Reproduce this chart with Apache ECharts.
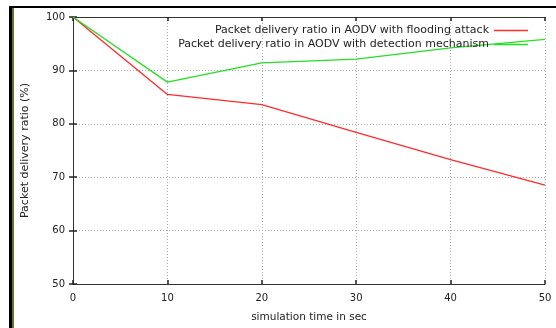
<!DOCTYPE html>
<html><head><meta charset="utf-8">
<script src="https://cdn.jsdelivr.net/npm/echarts@6/dist/echarts.min.js"></script>
<style>html,body{margin:0;padding:0;background:#fff}#c{width:556px;height:328px}</style>
</head><body><div id="c"></div>
<script>
const times = [0, 10, 20, 30, 40, 50];
const floodingAttack = [100, 85.5, 83.6, 78.4, 73.3, 68.5];
const detectionMechanism = [100, 87.8, 91.4, 92.1, 94.2, 95.8];
const seriesNames = ['Packet delivery ratio in AODV with flooding attack', 'Packet delivery ratio in AODV with detection mechanism'];
const xTitle = 'simulation time in sec';
const yTitle = 'Packet delivery ratio (%)';

const font = 'DejaVu Sans';
const chart = echarts.init(document.getElementById('c'), null, {renderer: 'canvas'});
const axisCommon = {
  axisLine: {show: true, lineStyle: {color: '#333', width: 1}},
  axisTick: {show: true, inside: true, length: 4, lineStyle: {color: '#222', width: 1.5}},
  splitLine: {show: false},
};
chart.setOption({
  animation: false,
  textStyle: {fontFamily: font},
  grid: {left: 73, right: 11, top: 17, bottom: 43, containLabel: false},
  legend: [
    {data: [seriesNames[0]], right: 23, top: 20, align: 'right', icon: 'rect', itemWidth: 34, itemHeight: 1.5, itemGap: 4,
     textStyle: {fontSize: 11, color: '#222', fontFamily: font}},
    {data: [seriesNames[1]], right: 23, top: 34, align: 'right', icon: 'rect', itemWidth: 34, itemHeight: 1.5, itemGap: 4,
     textStyle: {fontSize: 11, color: '#222', fontFamily: font}}
  ],
  xAxis: [
    Object.assign({type: 'value', min: 0, max: 50, interval: 10, name: xTitle, nameLocation: 'middle', nameGap: 28,
      nameTextStyle: {fontSize: 10.5, color: '#222'},
      axisLabel: {fontSize: 10, color: '#222', margin: 9},
      }, axisCommon, {splitLine: {show: true, lineStyle: {color: '#aaa', type: [1, 2], width: 1}}}),
    Object.assign({type: 'value', position: 'top', min: 0, max: 50, interval: 10, axisLabel: {show: false}}, axisCommon)
  ],
  yAxis: [
    Object.assign({type: 'value', min: 50, max: 100, interval: 10, name: yTitle, nameLocation: 'middle', nameGap: 42,
      nameTextStyle: {fontSize: 11, color: '#222'},
      axisLabel: {fontSize: 10, color: '#222', margin: 8},
      }, axisCommon, {splitLine: {show: true, lineStyle: {color: '#aaa', type: [1, 2], width: 1}}}),
    Object.assign({type: 'value', position: 'right', min: 50, max: 100, interval: 10, axisLabel: {show: false}}, axisCommon)
  ],
  series: [
    {name: seriesNames[0], type: 'line', data: times.map((t, i) => [t, floodingAttack[i]]), showSymbol: false, symbol: 'none',
     lineStyle: {color: '#ff2a2a', width: 1.3}, itemStyle: {color: '#ff2a2a'}},
    {name: seriesNames[1], type: 'line', data: times.map((t, i) => [t, detectionMechanism[i]]), showSymbol: false, symbol: 'none',
     lineStyle: {color: '#22e022', width: 1.3}, itemStyle: {color: '#22e022'}}
  ],
  graphic: [
    {type: 'rect', shape: {x: 9, y: 6, width: 547, height: 2}, style: {fill: '#000'}, silent: true},
    {type: 'rect', shape: {x: 9, y: 6, width: 3, height: 322}, style: {fill: '#000'}, silent: true},
    {type: 'rect', shape: {x: 12, y: 8, width: 2, height: 320}, style: {fill: '#6e6e2a'}, silent: true}
  ]
});
</script></body></html>
